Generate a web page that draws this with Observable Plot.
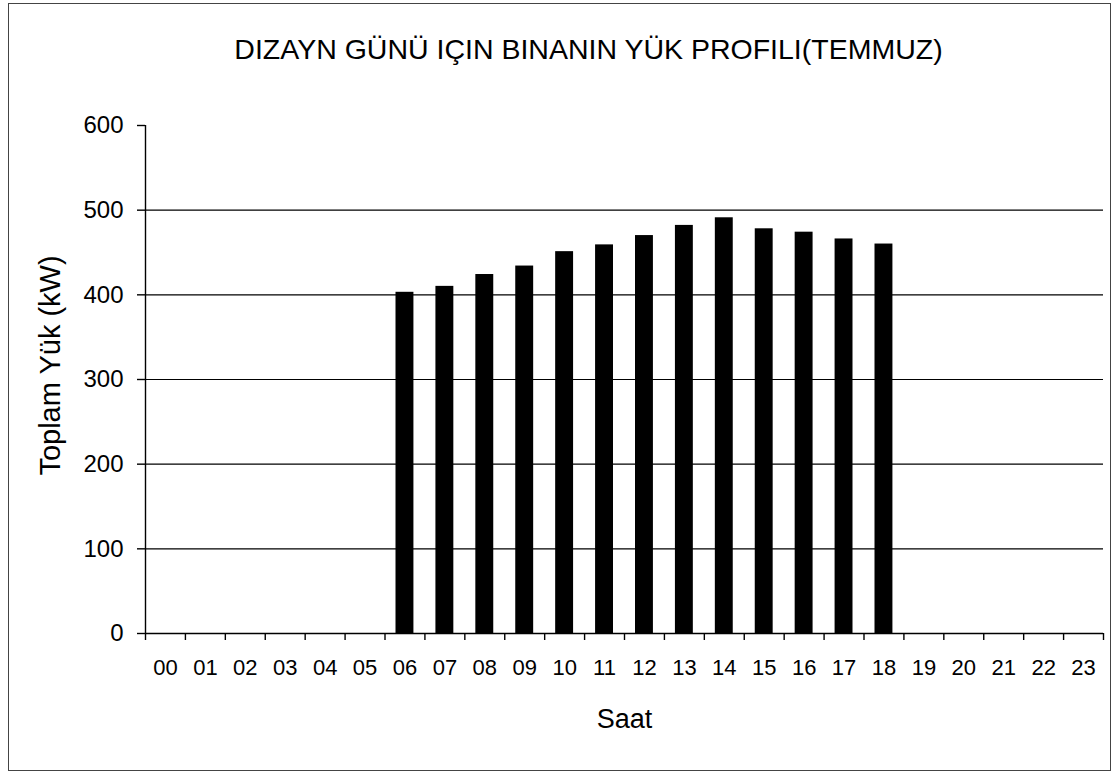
<!DOCTYPE html>
<html>
<head>
<meta charset="utf-8">
<script src="https://cdn.jsdelivr.net/npm/d3@7"></script>
<script src="https://cdn.jsdelivr.net/npm/@observablehq/plot@0.6"></script>
<style>
  html, body { margin: 0; padding: 0; background: #fff; }
  #wrap { position: relative; width: 1115px; height: 776px; overflow: hidden; }
  #border { position: absolute; left: 8px; top: 3px; width: 1101px; height: 766px; border: 1px solid #444; pointer-events: none; }
</style>
</head>
<body>
<div id="wrap"><div id="border"></div></div>
<script>
const hours = ["00","01","02","03","04","05","06","07","08","09","10","11","12","13","14","15","16","17","18","19","20","21","22","23"];
const loads = [0,0,0,0,0,0,403,410,424,434,451,459,470,482,491,478,474,466,460,0,0,0,0,0];
const yTicks = [0,100,200,300,400,500,600];
const gridValues = [100,200,300,400,500];
const titleText = "DIZAYN GÜNÜ IÇIN BINANIN YÜK PROFILI(TEMMUZ)";
const xLabel = "Saat";
const yLabel = "Toplam Yük (kW)";

const data = hours.map((h, i) => ({hour: h, i, load: loads[i]}));
const bars = data.filter(d => d.load > 0);

const chart = Plot.plot({
  width: 1115,
  height: 776,
  marginTop: 125,
  marginBottom: 143,
  marginLeft: 145,
  marginRight: 12,
  style: {fontFamily: "'Liberation Sans', Arial, sans-serif", color: "#000", background: "transparent"},
  x: {type: "linear", domain: [0, 24], axis: null, label: null},
  y: {domain: [0, 600], axis: null, label: null},
  marks: [
    Plot.ruleY(gridValues, {x1: 0, x2: 24, stroke: "#000", strokeWidth: 1.2}),
    Plot.rectY(bars, {x1: d => d.i, x2: d => d.i + 1, y: "load", fill: "#000", insetLeft: 11, insetRight: 11}),
    Plot.ruleY([0], {x1: 0, x2: 24, stroke: "#000", strokeWidth: 1.4}),
    Plot.ruleX([0], {y1: 0, y2: 600, stroke: "#000", strokeWidth: 1.4}),
    Plot.axisY({ticks: yTicks, tickSize: 8, tickPadding: 14, fontSize: 24, label: null, tickFormat: d => String(d), stroke: "#000", strokeWidth: 1.4}),
    Plot.axisX({ticks: d3.range(0, 25), tickSize: 7, label: null, tickFormat: () => "", stroke: "#000", strokeWidth: 1.4}),
    Plot.axisX({ticks: d3.range(0, 24).map(i => i + 0.5), tickSize: 0, tickPadding: 26, fontSize: 22, label: null, tickFormat: d => hours[Math.floor(d)]}),
    Plot.text([titleText], {frameAnchor: "top", dx: -36, dy: -87, fontSize: 28.5, fill: "#000"}),
    Plot.text([xLabel], {frameAnchor: "bottom", dy: 94, fontSize: 27, fill: "#000"}),
    Plot.text([yLabel], {frameAnchor: "left", textAnchor: "middle", rotate: -90, dx: -95, dy: -14, fontSize: 29, fill: "#000"})
  ]
});
document.getElementById("wrap").prepend(chart);
</script>
</body>
</html>
